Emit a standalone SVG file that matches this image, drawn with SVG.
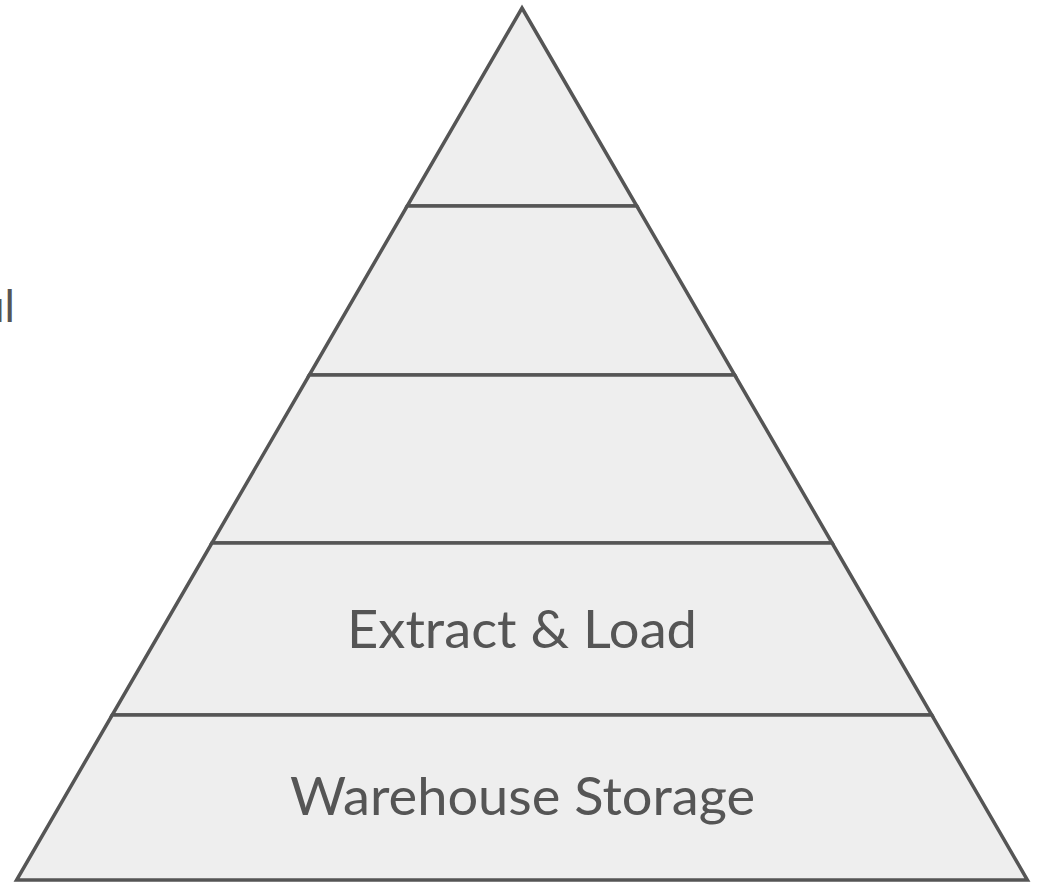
<svg xmlns="http://www.w3.org/2000/svg" width="1037" height="884" viewBox="0 0 1037 884">
<style>
.layer{fill:#eeeeee;stroke:#555555;stroke-width:3.5;stroke-linejoin:miter}
.lbl{font-family:Lato,"Noto Sans","Liberation Sans",sans-serif;font-size:52px;fill:#555555;text-anchor:middle}
.side{font-family:Lato,"Noto Sans","Liberation Sans",sans-serif;font-size:44px;fill:#555555;text-anchor:end}
</style>
<rect width="1037" height="884" fill="#ffffff"/>
<g id="layer1"><polygon class="layer" points="522,8 636.8,206 407.2,206"/></g>
<g id="layer2"><polygon class="layer" points="407.2,206 636.8,206 734.7,375 309.3,375"/></g>
<g id="layer3"><polygon class="layer" points="309.3,375 734.7,375 832.1,543 211.9,543"/></g>
<g id="layer4"><polygon class="layer" points="211.9,543 832.1,543 931.8,715 112.2,715"/>
<text class="lbl" x="522" y="648" textLength="350" lengthAdjust="spacingAndGlyphs">Extract &amp; Load</text></g>
<g id="layer5"><polygon class="layer" points="112.2,715 931.8,715 1027.4,880 16.6,880"/>
<text class="lbl" x="522.5" y="815" textLength="465" lengthAdjust="spacingAndGlyphs">Warehouse Storage</text></g>
<g id="side-label"><text class="side" x="15" y="322">ul</text></g>
<g id="connectors"/>
</svg>
